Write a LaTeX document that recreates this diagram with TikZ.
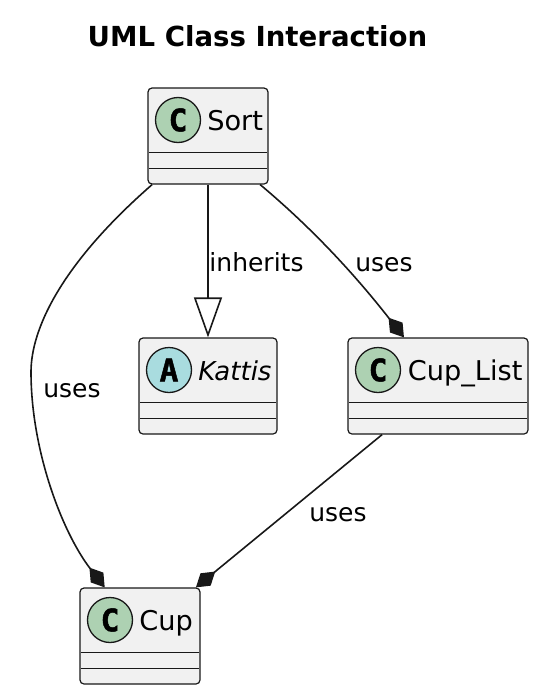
\documentclass[tikz,border=0pt]{standalone}
\usepackage{fontspec}
\setmainfont{DejaVu Sans}
\newfontfamily\spotfont[FakeBold=1.5]{DejaVu Sans Mono Bold}
\usetikzlibrary{arrows.meta}
\definecolor{boxfill}{HTML}{F1F1F1}
\definecolor{linecol}{HTML}{181818}
\definecolor{spotc}{HTML}{ADD1B2}
\definecolor{spota}{HTML}{A9DCDF}

\begin{document}
\begin{tikzpicture}[x=1pt,y=-1pt,line width=1.6pt,color=linecol,
    classbox/.style={draw, line width=1.2pt, fill=boxfill, rectangle, rounded corners=4pt, minimum height=96pt, inner sep=0pt},
    spot/.style={draw, line width=1.3pt, circle, minimum size=45pt, inner sep=0pt, font=\fontsize{31}{31}\spotfont, text=black},
    lbl/.style={font=\fontsize{27.2}{30}\selectfont, text=black, inner sep=0pt},
    edgelbl/.style={font=\fontsize{25}{30}\selectfont, text=black, inner sep=0pt, anchor=base},
    comp/.style={-{Diamond[length=25pt,width=16pt]}},
    inh/.style={-{Triangle[open,length=40pt,width=28pt]}}]
        \useasboundingbox (0,0) rectangle (540,696);
        \node[font=\fontsize{27.6}{30}\bfseries, text=black] (title) at (257.5,36) {UML Class Interaction};
        \node[classbox, minimum width=120pt] (Sort) at (208,136) {};
        \node[classbox, minimum width=138pt] (Kattis) at (208,386) {};
        \node[classbox, minimum width=180pt] (CupList) at (438,386) {};
        \node[classbox, minimum width=120pt] (Cup) at (140,636) {};
        % spots and names
        \node[spot, fill=spotc] (SortC) at (178,120) {C};
        \node[spot, fill=spota] (KattisA) at (169,370) {A};
        \node[spot, fill=spotc] (CupListC) at (378,370) {C};
        \node[spot, fill=spotc] (CupC) at (110,620) {C};
        \node[lbl, anchor=base west] (SortL) at (206.5,130) {Sort};
        \node[lbl, anchor=base west, font=\fontsize{26}{30}\selectfont\itshape] (KattisL) at (197.5,380) {Kattis};
        \node[lbl, anchor=base west] (CupListL) at (407,380) {Cup\_List};
        \node[lbl, anchor=base west] (CupL) at (138.5,630) {Cup};
        % separators
        \foreach \c in {Sort,Kattis,CupList,Cup} {
            \draw[line width=1pt] ([xshift=1.5pt,yshift=-16pt]\c.west) -- ([xshift=-1.5pt,yshift=-16pt]\c.east);
            \draw[line width=1pt] ([xshift=1.5pt,yshift=-32pt]\c.west) -- ([xshift=-1.5pt,yshift=-32pt]\c.east);
        }
        % connectors
        \draw[inh] (Sort.south) -- (Kattis.north);
        \draw[comp] (Sort.317.3) .. controls (300,218) and (345,262) .. (CupList.125.3);
        \draw[comp] (Sort.221.1) .. controls (60,265) and (31,330) .. (31,372) .. controls (31,450) and (62,532) .. (Cup.126.1);
        \draw[comp] (CupList.221.1) -- (Cup.41.1);
        \node[edgelbl] (inheritsL) at (256.5,271) {inherits};
        \node[edgelbl] (usesA) at (384,271) {uses};
        \node[edgelbl] (usesB) at (72,397) {uses};
        \node[edgelbl] (usesC) at (338,521) {uses};
    \end{tikzpicture}
\end{document}
